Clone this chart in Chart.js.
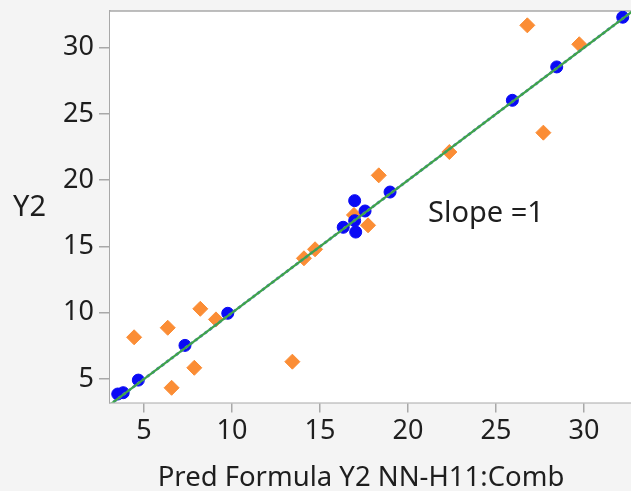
<!DOCTYPE html>
<html lang="en">
<head>
<meta charset="UTF-8">
<script src="https://cdn.jsdelivr.net/npm/chart.js"></script>
<title>Y2 vs Pred Formula</title>
<style>
    html, body { margin: 0; padding: 0; background: #f4f4f4; }
    #wrap { width: 631px; height: 491px; }
</style>
</head>
<body>
<div id="wrap"><canvas id="myChart" width="631" height="491"></canvas></div>

<script>
    // fitted points (on the slope=1 line)
    var blueX = [3.51, 3.82, 4.68, 7.33, 9.76, 16.32, 16.97, 17.56, 17.03, 16.97, 18.98, 25.93, 28.45, 32.2];
    var blueY = [3.87, 3.97, 4.92, 7.54, 9.96, 16.45, 18.46, 17.68, 16.09, 16.95, 19.11, 26.03, 28.55, 32.3];

    // other points
    var orangeX = [4.44, 6.35, 8.2, 9.09, 7.86, 6.57, 13.43, 14.09, 14.72, 16.93, 17.73, 18.34, 22.35, 26.78, 29.73, 27.69];
    var orangeY = [8.15, 8.87, 10.3, 9.5, 5.85, 4.34, 6.31, 14.11, 14.79, 17.38, 16.6, 20.37, 22.13, 31.69, 30.26, 23.59];

    var lineX = [3, 33];
    var xTicks = [5, 10, 15, 20, 25, 30];
    var yTicks = [5, 10, 15, 20, 25, 30];

    var fonte = '"Noto Sans", "Open Sans", sans-serif';

    function pares(xs, ys) {
        var r = [];
        for (var i = 0; i < xs.length; i++) r.push({ x: xs[i], y: ys[i] });
        return r;
    }

    // fundo branco da area do grafico, borda de cima e textos
    var extras = {
        id: 'extras',
        beforeDatasetsDraw: function (chart) {
            var ctx = chart.ctx, a = chart.chartArea;
            ctx.save();
            ctx.fillStyle = '#ffffff';
            ctx.fillRect(a.left, a.top, a.right - a.left, a.bottom - a.top);
            ctx.strokeStyle = '#a8a8a8';
            ctx.lineWidth = 1.5;
            ctx.beginPath();
            ctx.moveTo(a.left, a.top);
            ctx.lineTo(a.right, a.top);
            ctx.stroke();
            ctx.restore();
        },
        afterDraw: function (chart) {
            var ctx = chart.ctx;
            ctx.save();
            ctx.fillStyle = '#1e1e1e';
            ctx.textBaseline = 'alphabetic';
            ctx.textAlign = 'left';
            ctx.font = '29px ' + fonte;
            ctx.fillText('Y2', 13, 216);
            ctx.fillText('Slope =1', 428, 222);
            ctx.textAlign = 'center';
            ctx.font = '27.5px ' + fonte;
            ctx.fillText('Pred Formula Y2 NN-H11:Comb', 361, 486);
            ctx.restore();
        }
    };

    var dados = {
        datasets: [{
            type: 'line',
            label: 'fit',
            data: pares(lineX, lineX),
            borderColor: '#3fa34a',
            borderWidth: 2.2,
            pointRadius: 0,
            clip: 0,
            order: 0
        }, {
            type: 'line',
            label: 'fit2',
            data: pares(lineX, lineX),
            borderColor: '#5a7fd8',
            borderWidth: 2.8,
            borderDash: [3, 3],
            pointRadius: 0,
            clip: 0,
            order: 1
        }, {
            label: 'Y2',
            data: pares(blueX, blueY),
            backgroundColor: '#0a0af5',
            borderColor: '#0a0af5',
            pointRadius: 6,
            pointStyle: 'circle',
            order: 2
        }, {
            label: 'outros',
            data: pares(orangeX, orangeY),
            backgroundColor: '#fb8d35',
            borderColor: '#fb8d35',
            pointRadius: 7.5,
            pointStyle: 'rectRot',
            order: 3
        }]
    };

    const config = {
        type: 'scatter',
        data: dados,
        plugins: [extras],
        options: {
            responsive: false,
            animation: false,
            layout: { autoPadding: false, padding: { top: 11, right: 0, left: 0, bottom: 0 } },
            plugins: { legend: { display: false }, tooltip: { enabled: false } },
            scales: {
                x: {
                    type: 'linear',
                    min: 3.07,
                    max: 32.67,
                    afterBuildTicks: function (s) { s.ticks = xTicks.map(function (v) { return { value: v }; }); },
                    afterFit: function (s) { s.height = 88.5; s.paddingLeft = 0; s.paddingRight = 0; },
                    grid: { drawOnChartArea: false, drawTicks: true, tickLength: 10, color: '#a8a8a8', lineWidth: 1.5 },
                    border: { display: true, color: '#a8a8a8', width: 1.5 },
                    ticks: { color: '#1e1e1e', font: { family: fonte, size: 27 }, padding: 3, maxRotation: 0 }
                },
                y: {
                    type: 'linear',
                    min: 3.23,
                    max: 32.77,
                    afterBuildTicks: function (s) { s.ticks = yTicks.map(function (v) { return { value: v }; }); },
                    afterFit: function (s) { s.width = 110; s.paddingTop = 0; s.paddingBottom = 0; },
                    grid: { drawOnChartArea: false, drawTicks: true, tickLength: 11, color: '#a8a8a8', lineWidth: 1.5 },
                    border: { display: true, color: '#a8a8a8', width: 1.5 },
                    ticks: { color: '#1e1e1e', font: { family: fonte, size: 27 }, padding: 5 }
                }
            }
        }
    };

    let myChart = new Chart(document.getElementById('myChart'), config);
</script>
</body>
</html>
